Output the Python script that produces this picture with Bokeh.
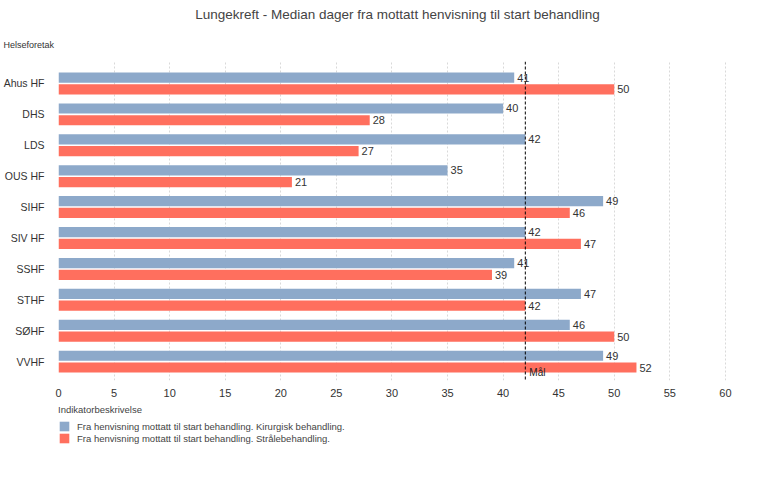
from bokeh.plotting import figure
from bokeh.layouts import column
from bokeh.models import (ColumnDataSource, Range1d, FixedTicker, Span, Label,
                          Legend, LegendItem, Title)
from bokeh.core.properties import value
from bokeh.embed import file_html
from bokeh.resources import INLINE

title_text = "Lungekreft - Median dager fra mottatt henvisning til start behandling"
categories = ["Ahus HF", "DHS", "LDS", "OUS HF", "SIHF", "SIV HF", "SSHF", "STHF", "SØHF", "VVHF"]
kirurgisk = [41, 40, 42, 35, 49, 42, 41, 47, 46, 49]
straale = [50, 28, 27, 21, 46, 47, 39, 42, 50, 52]
series_names = ["Fra henvisning mottatt til start behandling. Kirurgisk behandling.",
                "Fra henvisning mottatt til start behandling. Strålebehandling."]
legend_title = "Indikatorbeskrivelse"
x_ticks = [0, 5, 10, 15, 20, 25, 30, 35, 40, 45, 50, 55, 60]
goal = 42
goal_label = "Mål"

FONT = "Liberation Sans"
BLUE = "#8DA9CA"
RED = "#FF6F5E"
TXT = "#333333"

n = len(categories)
ypos = [n - 1 - i for i in range(n)]
off = 0.19
bh = 0.33

src_b = ColumnDataSource(dict(y=[v + off for v in ypos], x=kirurgisk,
                              lbl=[str(v) for v in kirurgisk]))
src_r = ColumnDataSource(dict(y=[v - off for v in ypos], x=straale,
                              lbl=[str(v) for v in straale]))

p = figure(frame_width=678, frame_height=319, output_backend="svg", toolbar_location=None,
           x_range=Range1d(0, 61), y_range=Range1d(-0.61, n - 1 + 0.71),
           min_border_left=58, min_border_right=27, min_border_top=61,
           min_border_bottom=22)
p.title.text = ""
p.outline_line_color = None
p.background_fill_color = "white"

rb = p.hbar(y="y", right="x", left=0, height=bh, source=src_b, fill_color=BLUE, line_color=None)
rr = p.hbar(y="y", right="x", left=0, height=bh, source=src_r, fill_color=RED, line_color=None)

for s in (src_b, src_r):
    p.text(x="x", y="y", text="lbl", source=s, x_offset=3, text_baseline="middle",
           text_align="left", text_font=value(FONT), text_font_size="11px", text_color=TXT)

p.add_layout(Span(location=goal, dimension="height", line_color="black",
                  line_dash="3 2", line_width=1))
p.add_layout(Label(x=goal, y=-0.36, text=goal_label, x_offset=4, text_baseline="middle",
                   text_font=FONT, text_font_size="10px", text_color="#222222"))

# axes
p.xaxis.ticker = FixedTicker(ticks=x_ticks)
p.xaxis.axis_line_color = None
p.xaxis.major_tick_line_color = None
p.xaxis.minor_tick_line_color = None
p.xaxis.major_label_standoff = 2
p.xaxis.major_label_text_font = FONT
p.xaxis.major_label_text_font_size = "11px"
p.xaxis.major_label_text_color = TXT

p.yaxis.ticker = FixedTicker(ticks=ypos)
p.yaxis.major_label_overrides = {v: c for v, c in zip(ypos, categories)}
p.yaxis.axis_line_color = None
p.yaxis.major_tick_line_color = None
p.yaxis.minor_tick_line_color = None
p.yaxis.major_label_standoff = 8
p.yaxis.major_label_text_font = FONT
p.yaxis.major_label_text_font_size = "10.5px"
p.yaxis.major_label_text_color = TXT

p.xgrid.grid_line_color = "#d9d9d9"
p.xgrid.grid_line_dash = "2 2"
p.ygrid.grid_line_color = None

# category header (inner) and main title (outer)
p.add_layout(Title(text="Helseforetak", align="left", offset=-55, standoff=24,
                   text_font=FONT, text_font_size="9px", text_color=TXT,
                   text_font_style="normal"), "above")
p.add_layout(Title(text=title_text, align="center", offset=-9, standoff=8,
                   text_font=FONT, text_font_size="13.5px", text_color="#444444",
                   text_font_style="normal"), "above")

# legend strip below the chart
lg = figure(frame_width=678, height=52, output_backend="svg", toolbar_location=None,
            x_range=Range1d(0, 1), y_range=Range1d(0, 1),
            x_axis_type=None, y_axis_type=None,
            min_border_left=58, min_border_right=27, min_border_top=0, min_border_bottom=0)
lg.title.text = ""
lg.outline_line_color = None
lg.xgrid.visible = False
lg.ygrid.visible = False
# legend-key renderers (zero-width, only supply the key colours)
lb = lg.hbar(y=[0.5], right=[0], left=[0], height=0.1, fill_color=BLUE, line_color=None)
lr = lg.hbar(y=[0.5], right=[0], left=[0], height=0.1, fill_color=RED, line_color=None)

legend = Legend(items=[LegendItem(label=series_names[0], renderers=[lb]),
                       LegendItem(label=series_names[1], renderers=[lr])],
                location=(0, 10), title=legend_title,
                title_text_font=FONT, title_text_font_size="9.5px", title_text_color="#444444",
                title_text_font_style="normal", title_standoff=5,
                label_text_font=FONT, label_text_font_size="9.5px", label_text_color="#444444",
                glyph_width=12, glyph_height=12, label_standoff=7, spacing=0,
                padding=0, margin=0, border_line_color=None, background_fill_alpha=0,
                label_height=12)
lg.add_layout(legend)

layout = column(p, lg, spacing=0)
open("out.html", "w").write(file_html(layout, INLINE))
